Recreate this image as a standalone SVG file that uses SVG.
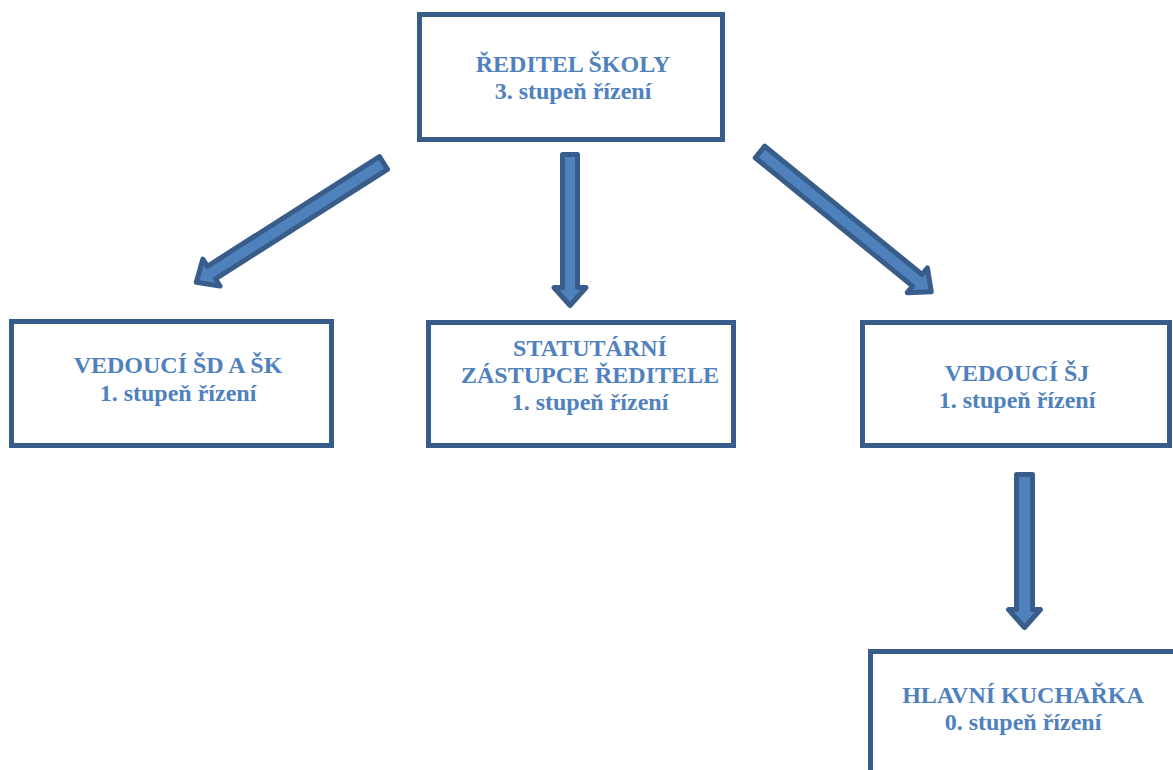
<svg xmlns="http://www.w3.org/2000/svg" width="1173" height="770" viewBox="0 0 1173 770">
<style>
.box{fill:#FFFFFF;stroke:#385D8A;stroke-width:5}
.t{font-family:"Liberation Serif","Times New Roman",serif;font-weight:bold;font-size:24px;fill:#4F81BD;text-anchor:middle}
.arr{fill:#4F81BD;stroke:#385D8A;stroke-width:5;stroke-linejoin:round}
</style>
<rect x="0" y="0" width="1173" height="770" fill="#FFFFFF"/>
<g id="connectors">
<path class="arr" transform="translate(383.5,163) rotate(147.5)" d="M0,-7.5 L204,-7.5 L204,-16 L222,0 L204,16 L204,7.5 L0,7.5 Z"/>
<path class="arr" transform="translate(570,154.5) rotate(90)" d="M0,-7.5 L133,-7.5 L133,-16 L151,0 L133,16 L133,7.5 L0,7.5 Z"/>
<path class="arr" transform="translate(760,152) rotate(39.2)" d="M0,-7.5 L203,-7.5 L203,-16 L221,0 L203,16 L203,7.5 L0,7.5 Z"/>
<path class="arr" transform="translate(1024.5,474.5) rotate(90)" d="M0,-8 L135,-8 L135,-16 L153,0 L135,16 L135,8 L0,8 Z"/>
</g>
<g id="reditel">
<rect class="box" x="419.5" y="14.5" width="303" height="125"/>
<text class="t" x="573" y="72">ŘEDITEL ŠKOLY</text>
<text class="t" x="573" y="99">3. stupeň řízení</text>
</g>
<g id="vedouci-sd">
<rect class="box" x="11.5" y="321.5" width="320" height="124"/>
<text class="t" x="178" y="373">VEDOUCÍ ŠD A ŠK</text>
<text class="t" x="178" y="401">1. stupeň řízení</text>
</g>
<g id="statutarni">
<rect class="box" x="428.5" y="322.5" width="305" height="123"/>
<text class="t" x="590" y="356">STATUTÁRNÍ</text>
<text class="t" x="590" y="383">ZÁSTUPCE ŘEDITELE</text>
<text class="t" x="590" y="410">1. stupeň řízení</text>
</g>
<g id="vedouci-sj">
<rect class="box" x="862.5" y="322.5" width="307" height="123"/>
<text class="t" x="1017" y="381">VEDOUCÍ ŠJ</text>
<text class="t" x="1017" y="408">1. stupeň řízení</text>
</g>
<g id="kucharka">
<rect class="box" x="870.5" y="651.5" width="320" height="140"/>
<text class="t" x="1023" y="703">HLAVNÍ KUCHAŘKA</text>
<text class="t" x="1023" y="730">0. stupeň řízení</text>
</g>
</svg>
